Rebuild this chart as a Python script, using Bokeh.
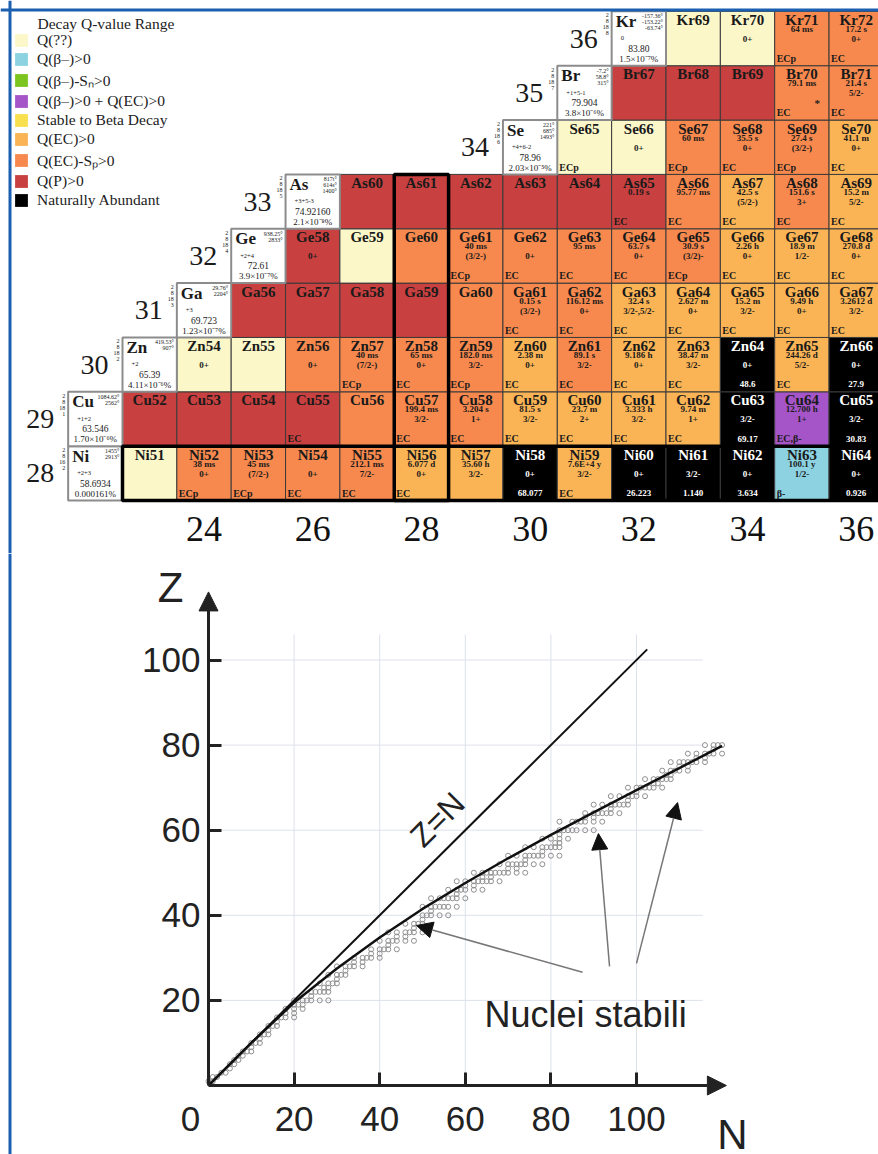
import math
from bokeh.plotting import figure
from bokeh.models import (ColumnDataSource, Legend, LegendItem, Span, Arrow, NormalHead,
                          LinearAxis, FixedTicker, Label, Range1d)
from bokeh.layouts import column
from bokeh.core.properties import value
from bokeh.embed import file_html
from bokeh.resources import INLINE

SERIF = "Liberation Serif"
SANS = "Liberation Sans"
BLUE = "#1a5fb0"

# ---------------- legend categories ----------------
CAT_KEYS = ["q", "bm", "bmsn", "bmec", "stable", "ec", "ecsp", "p", "nat"]
CAT_LABELS = ["Q(??)", "Q(β–)>0", "Q(β–)-Sₙ>0", "Q(β–)>0 + Q(EC)>0", "Stable to Beta Decay",
              "Q(EC)>0", "Q(EC)-Sₚ>0", "Q(P)>0", "Naturally Abundant"]
CAT_COLORS = ["#FBF7C9", "#8CD2E1", "#7CC420", "#A555C8", "#F8DF4E",
              "#FAB455", "#F7894E", "#C8403F", "#000000"]
LEGEND_TITLE = "Decay Q-value Range"

# ---------------- elements ----------------
ELEM_Z = [28, 29, 30, 31, 32, 33, 34, 35, 36]
ELEM_SYM = ["Ni", "Cu", "Zn", "Ga", "Ge", "As", "Se", "Br", "Kr"]
ELEM_BOX_N = [22, 22, 23, 24, 25, 26, 30, 31, 32]
ELEM_SHELLS = ["2\n8\n16\n2", "2\n8\n18\n1", "2\n8\n18\n2", "2\n8\n18\n3", "2\n8\n18\n4",
               "2\n8\n18\n5", "2\n8\n18\n6", "2\n8\n18\n7", "2\n8\n18\n8"]
ELEM_TEMPS = ["1455°\n2913°", "1084.62°\n2562°", "419.53°\n907°", "29.76°\n2204°",
              "938.25°\n2833°", "817t°\n614s°\n1400°", "221°\n685°\n1493°",
              "-7.2°\n58.8°\n315°", "-157.36°\n-153.22°\n-63.74°"]
ELEM_OX = ["+2+3", "+1+2", "+2", "+3", "+2+4", "+3+5-3", "+4+6-2", "+1+5-1", "0"]
ELEM_MASS = ["58.6934", "63.546", "65.39", "69.723", "72.61", "74.92160", "78.96", "79.904", "83.80"]
ELEM_ABUND = ["0.000161%", "1.70×10⁻⁶%", "4.11×10⁻⁶%", "1.23×10⁻⁷%", "3.9×10⁻⁷%",
              "2.1×10⁻⁸%", "2.03×10⁻⁵%", "3.8×10⁻⁶%", "1.5×10⁻⁷%"]

# ---------------- isotopes: (A, half-life, spin, decay mode, category, abundance) ----------------
NI_ROW = [(51, "", "", "", "q", ""), (52, "38 ms", "0+", "ECp", "ecsp", ""),
          (53, "45 ms", "(7/2-)", "ECp", "ecsp", ""), (54, "", "0+", "EC", "ecsp", ""),
          (55, "212.1 ms", "7/2-", "EC", "ecsp", ""), (56, "6.077 d", "0+", "EC", "ec", ""),
          (57, "35.60 h", "3/2-", "", "ec", ""), (58, "", "0+", "", "nat", "68.077"),
          (59, "7.6E+4 y", "3/2-", "EC", "ec", ""), (60, "", "0+", "", "nat", "26.223"),
          (61, "", "3/2-", "", "nat", "1.140"), (62, "", "0+", "", "nat", "3.634"),
          (63, "100.1 y", "1/2-", "β-", "bm", ""), (64, "", "0+", "", "nat", "0.926")]
CU_ROW = [(52, "", "", "", "p", ""), (53, "", "", "", "p", ""), (54, "", "", "", "p", ""),
          (55, "", "", "EC", "p", ""), (56, "", "", "", "ecsp", ""),
          (57, "199.4 ms", "3/2-", "EC", "ecsp", ""), (58, "3.204 s", "1+", "EC", "ecsp", ""),
          (59, "81.5 s", "3/2-", "EC", "ec", ""), (60, "23.7 m", "2+", "EC", "ec", ""),
          (61, "3.333 h", "3/2-", "EC", "ec", ""), (62, "9.74 m", "1+", "EC", "ec", ""),
          (63, "", "3/2-", "", "nat", "69.17"), (64, "12.700 h", "1+", "EC,β-", "bmec", ""),
          (65, "", "3/2-", "", "nat", "30.83")]
ZN_ROW = [(54, "", "0+", "", "q", ""), (55, "", "", "", "q", ""), (56, "", "0+", "", "ecsp", ""),
          (57, "40 ms", "(7/2-)", "ECp", "ecsp", ""), (58, "65 ms", "0+", "EC", "ecsp", ""),
          (59, "182.0 ms", "3/2-", "ECp", "ecsp", ""), (60, "2.38 m", "0+", "EC", "ec", ""),
          (61, "89.1 s", "3/2-", "EC", "ecsp", ""), (62, "9.186 h", "0+", "EC", "ec", ""),
          (63, "38.47 m", "3/2-", "EC", "ec", ""), (64, "", "0+", "", "nat", "48.6"),
          (65, "244.26 d", "5/2-", "EC", "ec", ""), (66, "", "0+", "", "nat", "27.9")]
GA_ROW = [(56, "", "", "", "p", ""), (57, "", "", "", "p", ""), (58, "", "", "", "p", ""),
          (59, "", "", "", "p", ""), (60, "", "", "", "ecsp", ""),
          (61, "0.15 s", "(3/2-)", "EC", "ecsp", ""), (62, "116.12 ms", "0+", "EC", "ecsp", ""),
          (63, "32.4 s", "3/2-,5/2-", "EC", "ec", ""), (64, "2.627 m", "0+", "EC", "ec", ""),
          (65, "15.2 m", "3/2-", "EC", "ec", ""), (66, "9.49 h", "0+", "EC", "ec", ""),
          (67, "3.2612 d", "3/2-", "EC", "ec", "")]
GE_ROW = [(58, "", "0+", "", "p", ""), (59, "", "", "", "q", ""), (60, "", "", "", "ecsp", ""),
          (61, "40 ms", "(3/2-)", "ECp", "ecsp", ""), (62, "", "0+", "EC", "ecsp", ""),
          (63, "95 ms", "", "EC", "ecsp", ""), (64, "63.7 s", "0+", "EC", "ecsp", ""),
          (65, "30.9 s", "(3/2)-", "ECp", "ecsp", ""), (66, "2.26 h", "0+", "EC", "ec", ""),
          (67, "18.9 m", "1/2-", "EC", "ec", ""), (68, "270.8 d", "0+", "EC", "ec", "")]
AS_ROW = [(60, "", "", "", "p", ""), (61, "", "", "", "p", ""), (62, "", "", "", "p", ""),
          (63, "", "", "", "p", ""), (64, "", "", "", "p", ""), (65, "0.19 s", "", "EC", "p", ""),
          (66, "95.77 ms", "", "EC", "ecsp", ""), (67, "42.5 s", "(5/2-)", "EC", "ec", ""),
          (68, "151.6 s", "3+", "EC", "ecsp", ""), (69, "15.2 m", "5/2-", "EC", "ec", "")]
SE_ROW = [(65, "", "", "ECp", "q", ""), (66, "", "0+", "", "q", ""),
          (67, "60 ms", "", "ECp", "ecsp", ""), (68, "35.5 s", "0+", "EC", "ecsp", ""),
          (69, "27.4 s", "(3/2-)", "ECp", "ecsp", ""), (70, "41.1 m", "0+", "EC", "ec", "")]
BR_ROW = [(67, "", "", "", "p", ""), (68, "", "", "", "p", ""), (69, "", "", "", "p", ""),
          (70, "79.1 ms", "", "EC", "ecsp", ""), (71, "21.4 s", "5/2-", "EC", "ecsp", "")]
KR_ROW = [(69, "", "", "", "q", ""), (70, "", "0+", "", "q", ""),
          (71, "64 ms", "", "ECp", "ecsp", ""), (72, "17.2 s", "0+", "EC", "ecsp", "")]
ISOTOPE_ROWS = [NI_ROW, CU_ROW, ZN_ROW, GA_ROW, GE_ROW, AS_ROW, SE_ROW, BR_ROW, KR_ROW]
STAR_Z, STAR_A = [35], [70]
MAGIC = 28
N_AXIS_LABELS = [24, 26, 28, 30, 32, 34, 36]

# ---------------- lower chart data ----------------
ZN_LINE_N = [0, 102.5]
ZN_LINE_Z = [0, 102.5]
CURVE_N = [0, 10, 20, 30, 40, 50, 60, 70, 80, 90, 100, 110, 120]
CURVE_Z = [0, 10, 19.5, 27.5, 34.8, 41.5, 47.6, 53.4, 58.9, 64.2, 69.4, 74.6, 79.8]
STABLE_Z = [1, 1, 2, 2, 3, 3, 4, 5, 5, 6, 6, 7, 7, 8, 8, 8, 9, 10, 10, 10, 11, 12, 12, 12, 13, 14, 14, 14, 15,
            16, 16, 16, 16, 17, 17, 18, 18, 18, 19, 19, 19, 20, 20, 20, 20, 20, 20, 21, 22, 22, 22, 22, 22,
            23, 23, 24, 24, 24, 24, 25, 26, 26, 26, 26, 27, 28, 28, 28, 28, 28, 29, 29, 30, 30, 30, 30, 30,
            31, 31, 32, 32, 32, 32, 32, 33, 34, 34, 34, 34, 34, 34, 35, 35, 36, 36, 36, 36, 36, 36, 37, 37,
            38, 38, 38, 38, 39, 40, 40, 40, 40, 40, 41, 42, 42, 42, 42, 42, 42, 42, 44, 44, 44, 44, 44, 44, 44,
            45, 46, 46, 46, 46, 46, 46, 47, 47, 48, 48, 48, 48, 48, 48, 48, 48, 49, 49,
            50, 50, 50, 50, 50, 50, 50, 50, 50, 50, 51, 51, 52, 52, 52, 52, 52, 52, 52, 52, 53,
            54, 54, 54, 54, 54, 54, 54, 54, 54, 55, 56, 56, 56, 56, 56, 56, 56, 57, 57, 58, 58, 58, 58, 59,
            60, 60, 60, 60, 60, 60, 60, 62, 62, 62, 62, 62, 62, 62, 63, 63, 64, 64, 64, 64, 64, 64, 64, 65,
            66, 66, 66, 66, 66, 66, 66, 67, 68, 68, 68, 68, 68, 68, 69, 70, 70, 70, 70, 70, 70, 70, 71, 71,
            72, 72, 72, 72, 72, 72, 73, 73, 74, 74, 74, 74, 74, 75, 75, 76, 76, 76, 76, 76, 76, 76, 77, 77,
            78, 78, 78, 78, 78, 78, 79, 80, 80, 80, 80]
STABLE_N = [0, 1, 1, 2, 3, 4, 5, 5, 6, 6, 7, 7, 8, 8, 9, 10, 10, 10, 11, 12, 12, 12, 13, 14, 14, 14, 15, 16, 16,
            16, 17, 18, 20, 18, 20, 18, 20, 22, 20, 21, 22, 20, 22, 23, 24, 26, 28, 24, 24, 25, 26, 27, 28,
            27, 28, 26, 28, 29, 30, 30, 28, 30, 31, 32, 32, 30, 32, 33, 34, 36, 34, 36, 34, 36, 37, 38, 40,
            38, 40, 38, 40, 41, 42, 44, 42, 40, 42, 43, 44, 46, 48, 44, 46, 42, 44, 46, 47, 48, 50, 48, 50,
            46, 48, 49, 50, 50, 50, 51, 52, 54, 56, 52, 50, 52, 53, 54, 55, 56, 58, 52, 54, 55, 56, 57, 58, 60,
            58, 56, 58, 59, 60, 62, 64, 60, 62, 58, 60, 62, 63, 64, 65, 66, 68, 64, 66,
            62, 64, 65, 66, 67, 68, 69, 70, 72, 74, 70, 72, 68, 70, 71, 72, 73, 74, 76, 78, 74,
            70, 72, 74, 75, 76, 77, 78, 80, 82, 78, 74, 76, 78, 79, 80, 81, 82, 81, 82, 78, 80, 82, 84, 82,
            82, 83, 84, 85, 86, 88, 90, 82, 85, 86, 87, 88, 90, 92, 88, 90, 88, 90, 91, 92, 93, 94, 96, 94,
            90, 92, 94, 95, 96, 97, 98, 98, 94, 96, 98, 99, 100, 102, 100, 98, 100, 101, 102, 103, 104, 106, 104, 105,
            102, 104, 105, 106, 107, 108, 107, 108, 106, 108, 109, 110, 112, 110, 112, 108, 110, 111, 112, 113, 114, 116, 114, 116,
            112, 114, 116, 117, 118, 120, 118, 116, 118, 119, 120]
X_TICKS = [20, 40, 60, 80, 100]
Y_TICKS = [20, 40, 60, 80, 100]
ARROW_N0 = [87.4, 93.7, 100.0]
ARROW_Z0 = [26.6, 28.0, 28.7]
ARROW_N1 = [48.6, 91.1, 109.6]
ARROW_Z1 = [37.6, 59.2, 66.5]
AXIS_N_MAX = 121
AXIS_Z_MAX = 116
GRID_Z_TOP = 106
GRID_N_RIGHT = 115.5

FRAME_PX = 9.5  # blue frame line position (px from page edge)

# =====================================================================
# Upper panel: chart of nuclides
# =====================================================================
W = 878
H1 = 553
S = 54.35  # pixels per cell
x0 = 22.5 - 122 / S
y0 = 27.5 - (H1 - 500) / S
p1 = figure(width=W, height=H1, x_range=Range1d(x0, x0 + W / S), y_range=Range1d(y0, y0 + H1 / S),
            output_backend="svg", toolbar_location=None, min_border=0,
            x_axis_location=None, y_axis_location=None, outline_line_color=None)
p1.grid.visible = False

color_of = dict(zip(CAT_KEYS, CAT_COLORS))
c = dict(N=[], Z=[], name=[], half=[], spin=[], mode=[], ab=[], color=[], tcol=[],
         y_name=[], y_half=[], y_spin=[], y_mode=[], x_mode=[])
for z, sym, row in zip(ELEM_Z, ELEM_SYM, ISOTOPE_ROWS):
    for (a, half, spin, mode, cat, ab) in row:
        n = a - z
        c["N"].append(n); c["Z"].append(z)
        c["name"].append(f"{sym}{a}"); c["half"].append(half); c["spin"].append(spin)
        c["mode"].append(mode); c["ab"].append(ab)
        c["color"].append(color_of[cat])
        c["tcol"].append("#ffffff" if cat == "nat" else "#1a1a1a")
        c["y_name"].append(z + 0.5 - 8.5 / S)
        c["y_half"].append(z + 0.5 - 17.5 / S)
        c["y_spin"].append(z + 0.5 - 27.5 / S)
        c["y_mode"].append(z + 0.5 - 47 / S)
        c["x_mode"].append(n - 0.5 + 2 / S)
cs = ColumnDataSource(c)

p1.rect(x="N", y="Z", width=1, height=1, source=cs, fill_color="color",
        line_color="#3a3a3a", line_width=1)
common = dict(source=cs, text_color="tcol", text_font=value(SERIF), text_font_style="bold",
              text_baseline="middle")
p1.text(x="N", y="y_name", text="name", text_font_size="15px", text_align="center", **common)
p1.text(x="N", y="y_half", text="half", text_font_size="9px", text_align="center", **common)
p1.text(x="N", y="y_spin", text="spin", text_font_size="9px", text_align="center", **common)
p1.text(x="x_mode", y="y_mode", text="mode", text_font_size="10px", text_align="left", **common)
p1.text(x="N", y="y_mode", text="ab", text_font_size="9px", text_align="center", **common)

star = ColumnDataSource(dict(x=[a - z + 0.285 for z, a in zip(STAR_Z, STAR_A)],
                             y=[z - 0.19 for z in STAR_Z], t=["*"] * len(STAR_Z)))
p1.text(x="x", y="y", text="t", source=star, text_font=value(SERIF), text_font_style="bold",
        text_font_size="11px", text_align="center", text_baseline="middle", text_color="#1a1a1a")

# element info boxes
e = dict(N=ELEM_BOX_N, Z=ELEM_Z, sym=ELEM_SYM, shells=ELEM_SHELLS, temps=ELEM_TEMPS,
         ox=ELEM_OX, mass=ELEM_MASS, ab=ELEM_ABUND, zl=[str(z) for z in ELEM_Z])
e["x_sym"] = [n - 0.5 + 4 / S for n in ELEM_BOX_N]
e["y_sym"] = [z + 0.5 - 10 / S for z in ELEM_Z]
e["x_tmp"] = [n + 0.5 - 3 / S for n in ELEM_BOX_N]
e["y_tmp"] = [z + 0.5 - 2 / S for z in ELEM_Z]
e["x_ox"] = [n - 0.5 + 9 / S for n in ELEM_BOX_N]
e["y_ox"] = [z + 0.5 - 27 / S for z in ELEM_Z]
e["y_mass"] = [z + 0.5 - 37 / S for z in ELEM_Z]
e["y_ab"] = [z + 0.5 - 47.5 / S for z in ELEM_Z]
e["x_sh"] = [n - 0.5 - 3 / S for n in ELEM_BOX_N]
e["y_sh"] = [z + 0.5 - 1 / S for z in ELEM_Z]
e["x_zl"] = [n - 0.5 - 14 / S for n in ELEM_BOX_N]
es = ColumnDataSource(e)
p1.rect(x="N", y="Z", width=1, height=1, source=es, fill_color="white",
        line_color="#8c8c8c", line_width=2)
tc = dict(source=es, text_color="#1a1a1a", text_font=value(SERIF))
p1.text(x="x_sym", y="y_sym", text="sym", text_font_size="17px", text_font_style="bold",
        text_align="left", text_baseline="middle", **tc)
p1.text(x="x_tmp", y="y_tmp", text="temps", text_font_size="6px", text_align="right",
        text_baseline="top", text_line_height=1.0, **tc)
p1.text(x="x_ox", y="y_ox", text="ox", text_font_size="6.5px", text_align="left",
        text_baseline="middle", **tc)
p1.text(x="N", y="y_mass", text="mass", text_font_size="9.5px", text_align="center",
        text_baseline="middle", **tc)
p1.text(x="N", y="y_ab", text="ab", text_font_size="9px", text_align="center",
        text_baseline="middle", **tc)
p1.text(x="x_sh", y="y_sh", text="shells", text_font_size="6px", text_align="right",
        text_baseline="top", text_line_height=1.0, **tc)
p1.text(x="x_zl", y="Z", text="zl", text_font_size="28px", text_align="right",
        text_baseline="middle", **tc)

# magic-number outlines (Z = 28 row, N = 28 column)
row_n = [n for n, z in zip(c["N"], c["Z"]) if z == MAGIC]
col_z = [z for n, z in zip(c["N"], c["Z"]) if n == MAGIC]
mg = ColumnDataSource(dict(left=[min(row_n) - 0.5, MAGIC - 0.5], right=[max(row_n) + 0.5, MAGIC + 0.5],
                           bottom=[MAGIC - 0.5, min(col_z) - 0.5], top=[MAGIC + 0.5, max(col_z) + 0.5]))
p1.quad(left="left", right="right", bottom="bottom", top="top", source=mg, fill_color=None,
        line_color="black", line_width=3.5)

# neutron number labels
nl = ColumnDataSource(dict(x=N_AXIS_LABELS, y=[MAGIC - 0.5 - 28 / S] * len(N_AXIS_LABELS),
                           t=[str(n) for n in N_AXIS_LABELS]))
p1.text(x="x", y="y", text="t", source=nl, text_font=value(SERIF), text_font_size="36px",
        text_align="center", text_baseline="middle", text_color="#111111")

# legend (proxy renderers hold no visible geometry)
NAN = float("nan")
items = []
for lab, col in zip(CAT_LABELS, CAT_COLORS):
    r = p1.quad(left=[NAN], right=[NAN], top=[NAN], bottom=[NAN], fill_color=col, line_color=None)
    items.append(LegendItem(label=lab, renderers=[r]))
legend = Legend(items=items, location=(13, 344), glyph_width=16, glyph_height=16, label_height=16,
                label_standoff=8, spacing=1, padding=0, margin=0, border_line_color=None,
                background_fill_alpha=0, label_text_font=SERIF, label_text_font_size="15.5px",
                label_text_color="#222222", label_text_baseline="middle")
p1.add_layout(legend)
p1.add_layout(Label(x=37, y=H1 - 22.5, x_units="screen", y_units="screen", text=LEGEND_TITLE,
                    text_font=SERIF, text_font_size="15.5px", text_color="#222222",
                    text_baseline="middle", text_align="left"))

# blue frame
p1.add_layout(Span(location=x0 + FRAME_PX / S, dimension="height", line_color=BLUE, line_width=3))
p1.add_layout(Span(location=y0 + (H1 - FRAME_PX) / S, dimension="width", line_color=BLUE, line_width=3))

# =====================================================================
# Lower panel: Z vs N
# =====================================================================
H2 = 601
KX = 4.28
KY = 4.255
xs = -208 / KX
ys = -(H2 - 532) / KY
p2 = figure(width=W, height=H2, x_range=Range1d(xs, xs + W / KX), y_range=Range1d(ys, ys + H2 / KY),
            output_backend="svg", toolbar_location=None, min_border=0,
            x_axis_location=None, y_axis_location=None, outline_line_color=None)
p2.grid.visible = False

GRID = "#dde1ea"
p2.segment(x0=X_TICKS, y0=[0] * len(X_TICKS), x1=X_TICKS, y1=[GRID_Z_TOP] * len(X_TICKS),
           line_color=GRID, line_width=1)
p2.segment(x0=[0] * len(Y_TICKS), y0=Y_TICKS, x1=[GRID_N_RIGHT] * len(Y_TICKS), y1=Y_TICKS,
           line_color=GRID, line_width=1)

p2.scatter(x=STABLE_N, y=STABLE_Z, marker="circle", size=5, fill_color=None,
           line_color="#8f8f8f", line_width=1)
p2.line(x=ZN_LINE_N, y=ZN_LINE_Z, line_color="#111111", line_width=2)
p2.line(x=CURVE_N, y=CURVE_Z, line_color="#111111", line_width=2.5, line_join="round")

for dim in ("left", "below"):
    ax = LinearAxis(fixed_location=0,
                    ticker=FixedTicker(ticks=Y_TICKS if dim == "left" else X_TICKS),
                    major_tick_in=13, major_tick_out=0, minor_tick_in=0, minor_tick_out=0,
                    major_tick_line_width=3, major_tick_line_color="#222222",
                    axis_line_color=None, major_label_text_font=SANS,
                    major_label_text_font_size="35px", major_label_text_color="#222222",
                    major_label_standoff=8 if dim == "left" else 21)
    p2.add_layout(ax, dim)

for xe, ye in ((0, AXIS_Z_MAX), (AXIS_N_MAX, 0)):
    p2.add_layout(Arrow(x_start=0, y_start=0, x_end=xe, y_end=ye, line_color="#222222", line_width=3,
                        end=NormalHead(size=19, fill_color="#222222", line_color="#222222")))

arr = ColumnDataSource(dict(n0=ARROW_N0, z0=ARROW_Z0, n1=ARROW_N1, z1=ARROW_Z1))
p2.add_layout(Arrow(x_start="n0", y_start="z0", x_end="n1", y_end="z1", source=arr,
                    line_color="#777777", line_width=1.5,
                    end=NormalHead(size=16, fill_color="#111111", line_color="#111111")))

lab = dict(text_font=SANS, text_color="#222222")
p2.add_layout(Label(x=0, y=0, text="0", x_offset=-18, y_offset=-21, text_align="center",
                    text_baseline="top", text_font_size="35px", **lab))
p2.add_layout(Label(x=0, y=AXIS_Z_MAX, text="Z", x_offset=-38, y_offset=4, text_align="center",
                    text_baseline="middle", text_font_size="42px", **lab))
p2.add_layout(Label(x=AXIS_N_MAX, y=0, text="N", x_offset=6, y_offset=-49, text_align="center",
                    text_baseline="middle", text_font_size="42px", **lab))
p2.add_layout(Label(x=53.5, y=62.5, text="Z=N", angle=math.pi / 4, text_align="center",
                    text_baseline="middle", text_font_size="32px", **lab))
p2.add_layout(Label(x=64.5, y=16.7, text="Nuclei stabili", text_align="left",
                    text_baseline="alphabetic", text_font_size="36px", **lab))

p2.add_layout(Span(location=xs + FRAME_PX / KX, dimension="height", line_color=BLUE, line_width=3))

layout = column(p1, p2, spacing=0)
open("out.html", "w").write(file_html(layout, INLINE))
